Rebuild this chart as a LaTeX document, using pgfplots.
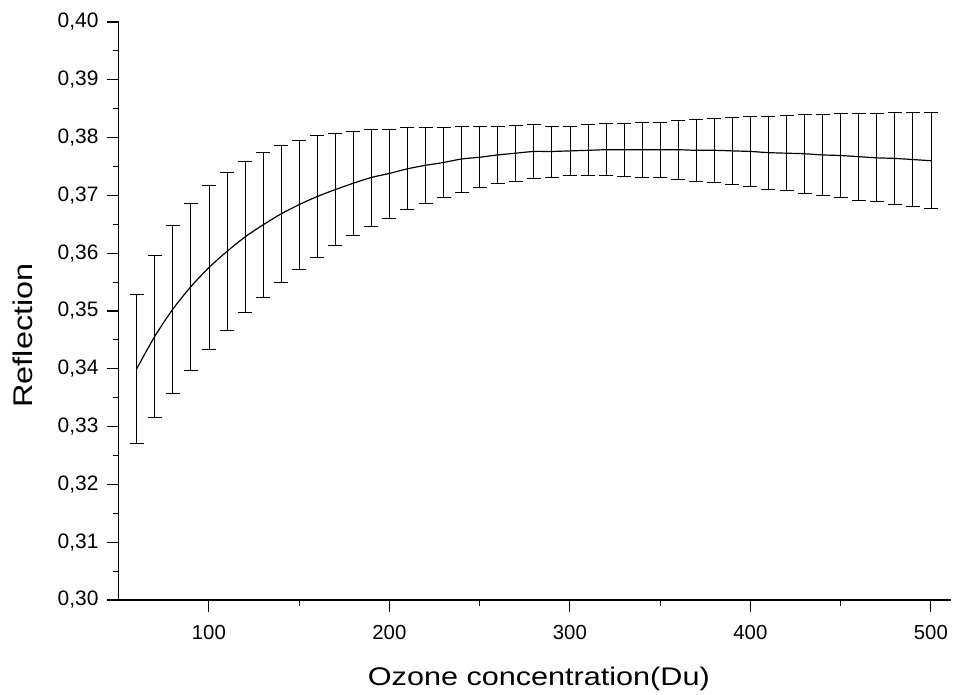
\documentclass[border=0pt]{standalone}
\usepackage{fontspec}
\setmainfont{Liberation Sans}
\newfontfamily\widefont[FakeStretch=1.2]{Liberation Sans}
\usepackage{pgfplots}
\usepackage{pgfplotstable}
\pgfplotsset{compat=1.18}

\pgfplotstableread{
x y e
60 0.3400 0.0129
70 0.3456 0.0140
80 0.3503 0.0145
90 0.3542 0.0145
100 0.3575 0.0142
110 0.3603 0.0137
120 0.3628 0.0131
130 0.3649 0.0125
140 0.3668 0.0119
150 0.3684 0.0112
160 0.3698 0.0105
170 0.3710 0.0097
180 0.3721 0.0090
190 0.3731 0.0084
200 0.3738 0.0077
210 0.3746 0.0071
220 0.3752 0.0066
230 0.3757 0.0061
240 0.3763 0.0057
250 0.3766 0.0053
260 0.3770 0.0050
270 0.3773 0.0048
280 0.3776 0.0046
290 0.3776 0.0044
300 0.3777 0.0043
310 0.3778 0.0044
320 0.3779 0.0045
330 0.3779 0.0046
340 0.3779 0.0047
350 0.3779 0.0048
360 0.3779 0.0051
370 0.3778 0.0053
380 0.3778 0.0055
390 0.3777 0.0058
400 0.3776 0.0061
410 0.3774 0.0063
420 0.3773 0.0065
430 0.3772 0.0068
440 0.3770 0.0070
450 0.3769 0.0073
460 0.3767 0.0075
470 0.3765 0.0076
480 0.3764 0.0079
490 0.3762 0.0081
500 0.3760 0.0083
}\datatable

\begin{document}
\begin{tikzpicture}
\begin{axis}[
  at={(0,0)}, anchor=south west,
  scale only axis,
  width=832.1bp, height=578bp,
  xmin=50, xmax=511,
  ymin=0.30, ymax=0.40,
  axis x line*=bottom,
  axis y line*=left,
  axis line style={line width=1.2pt, black},
  xtick={100,200,300,400,500},
  ytick={0.30,0.31,...,0.405},
  minor x tick num=1,
  minor y tick num=1,
  tick align=outside,
  major tick length=12bp,
  minor tick length=6bp,
  tick style={line width=1.1pt, black},
  /pgf/number format/assume math mode=true,
  x tick label style={font=\fontsize{12}{14}\selectfont, scale=1.7, inner sep=7.8bp},
  yticklabel={\pgfmathprintnumber[assume math mode=true,use comma,fixed,fixed zerofill,precision=2]{\tick}},
  y tick label style={font=\fontsize{12}{14}\selectfont, scale=1.75, inner sep=4.5bp},
  xlabel={Ozone concentration(Du)},
  ylabel={Reflection},
  xlabel style={font=\widefont\fontsize{25.5bp}{30bp}\selectfont, at={(axis description cs:0.505,0)}, anchor=base, yshift=-85.7bp},
  ylabel style={font=\widefont\fontsize{27bp}{32bp}\selectfont, at={(axis description cs:0,0.4576)}, anchor=center, yshift=96bp},
  clip=false,
]
\addplot[black, line width=1.2pt, smooth, mark=none] table[x=x, y=y] {\datatable};
\addplot[draw=none, mark=none,
  error bars/.cd, y dir=both, y explicit, error mark=none,
  error bar style={line width=0.8pt, draw=black, solid}]
  table[x=x, y=y, y error=e] {\datatable};
\addplot[only marks, mark=-, mark size=7bp, mark options={line width=0.8pt, draw=black, solid}]
  table[x=x, y expr=\thisrow{y}+\thisrow{e}] {\datatable};
\addplot[only marks, mark=-, mark size=7bp, mark options={line width=0.8pt, draw=black, solid}]
  table[x=x, y expr=\thisrow{y}-\thisrow{e}] {\datatable};
\end{axis}
\pgfresetboundingbox
\path[use as bounding box] (-118.65bp,-95bp) rectangle (835.35bp,600bp);
\end{tikzpicture}
\end{document}
